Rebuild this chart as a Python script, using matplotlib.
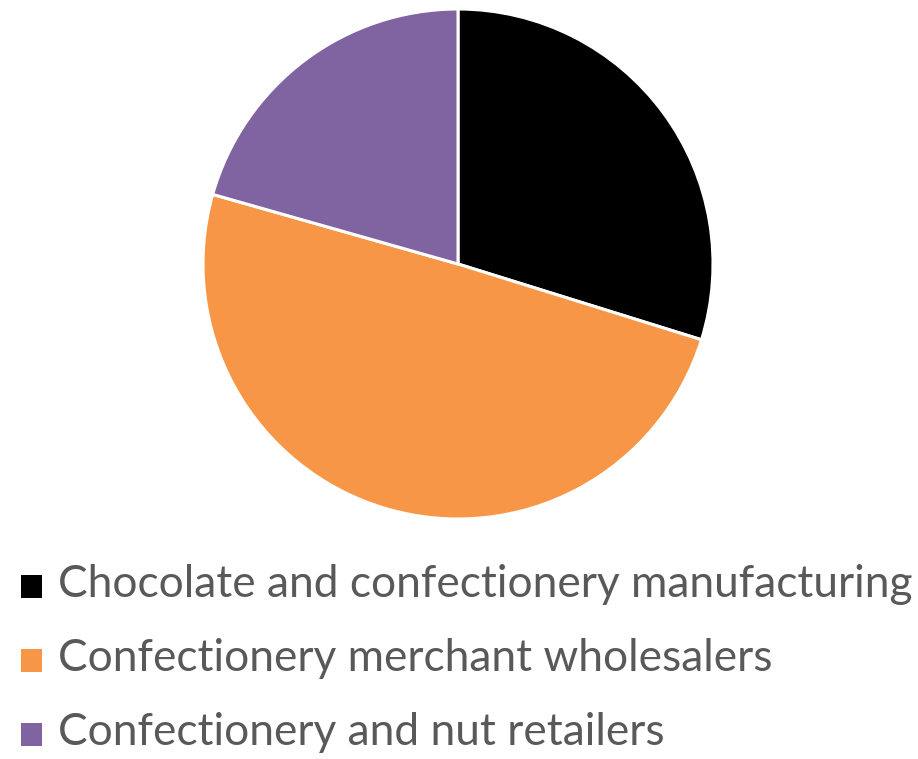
import matplotlib
matplotlib.use("Agg")
import matplotlib.pyplot as plt
from matplotlib.patches import Rectangle

categories = [
    "Chocolate and confectionery manufacturing",
    "Confectionery merchant wholesalers",
    "Confectionery and nut retailers",
]
shares = [29.8, 49.6, 20.6]
colors = ["#000000", "#F79646", "#8064A2"]

W, H, DPI = 918, 759, 100
fig = plt.figure(figsize=(W / DPI, H / DPI), dpi=DPI)

# pie axes: centre (458, 264) px, radius 255 px
cx, cy, r = 458, 264, 255
ax = fig.add_axes([(cx - r) / W, (H - cy - r) / H, 2 * r / W, 2 * r / H])
wedges, _ = ax.pie(shares, colors=colors, startangle=90, counterclock=False,
                   wedgeprops=dict(edgecolor="white", linewidth=2.2))
for w in wedges:
    w.set_clip_on(False)
ax.set_xlim(-1.0, 1.0)
ax.set_ylim(-1.0, 1.0)
ax.set_aspect("equal")
ax.axis("off")

# legend rows
font = "Lato"
baselines = [597, 671, 745]
text_x = 58
fs = 34
t0 = fig.text(text_x / W, 1 - baselines[0] / H, categories[0], fontsize=fs,
              family=font, color="#595959", va="baseline", ha="left")
fig.canvas.draw()
bb = t0.get_window_extent()
fs = fs * (914 - text_x) / bb.width
t0.remove()

for label, color, base in zip(categories, colors, baselines):
    fig.patches.append(Rectangle((21 / W, 1 - (base + 1) / H), 21 / W, 23 / H,
                                 transform=fig.transFigure, facecolor=color,
                                 edgecolor="none"))
    fig.text(text_x / W, 1 - base / H, label, fontsize=fs, family=font,
             color="#595959", va="baseline", ha="left")

fig.savefig("out.png", dpi=DPI)
